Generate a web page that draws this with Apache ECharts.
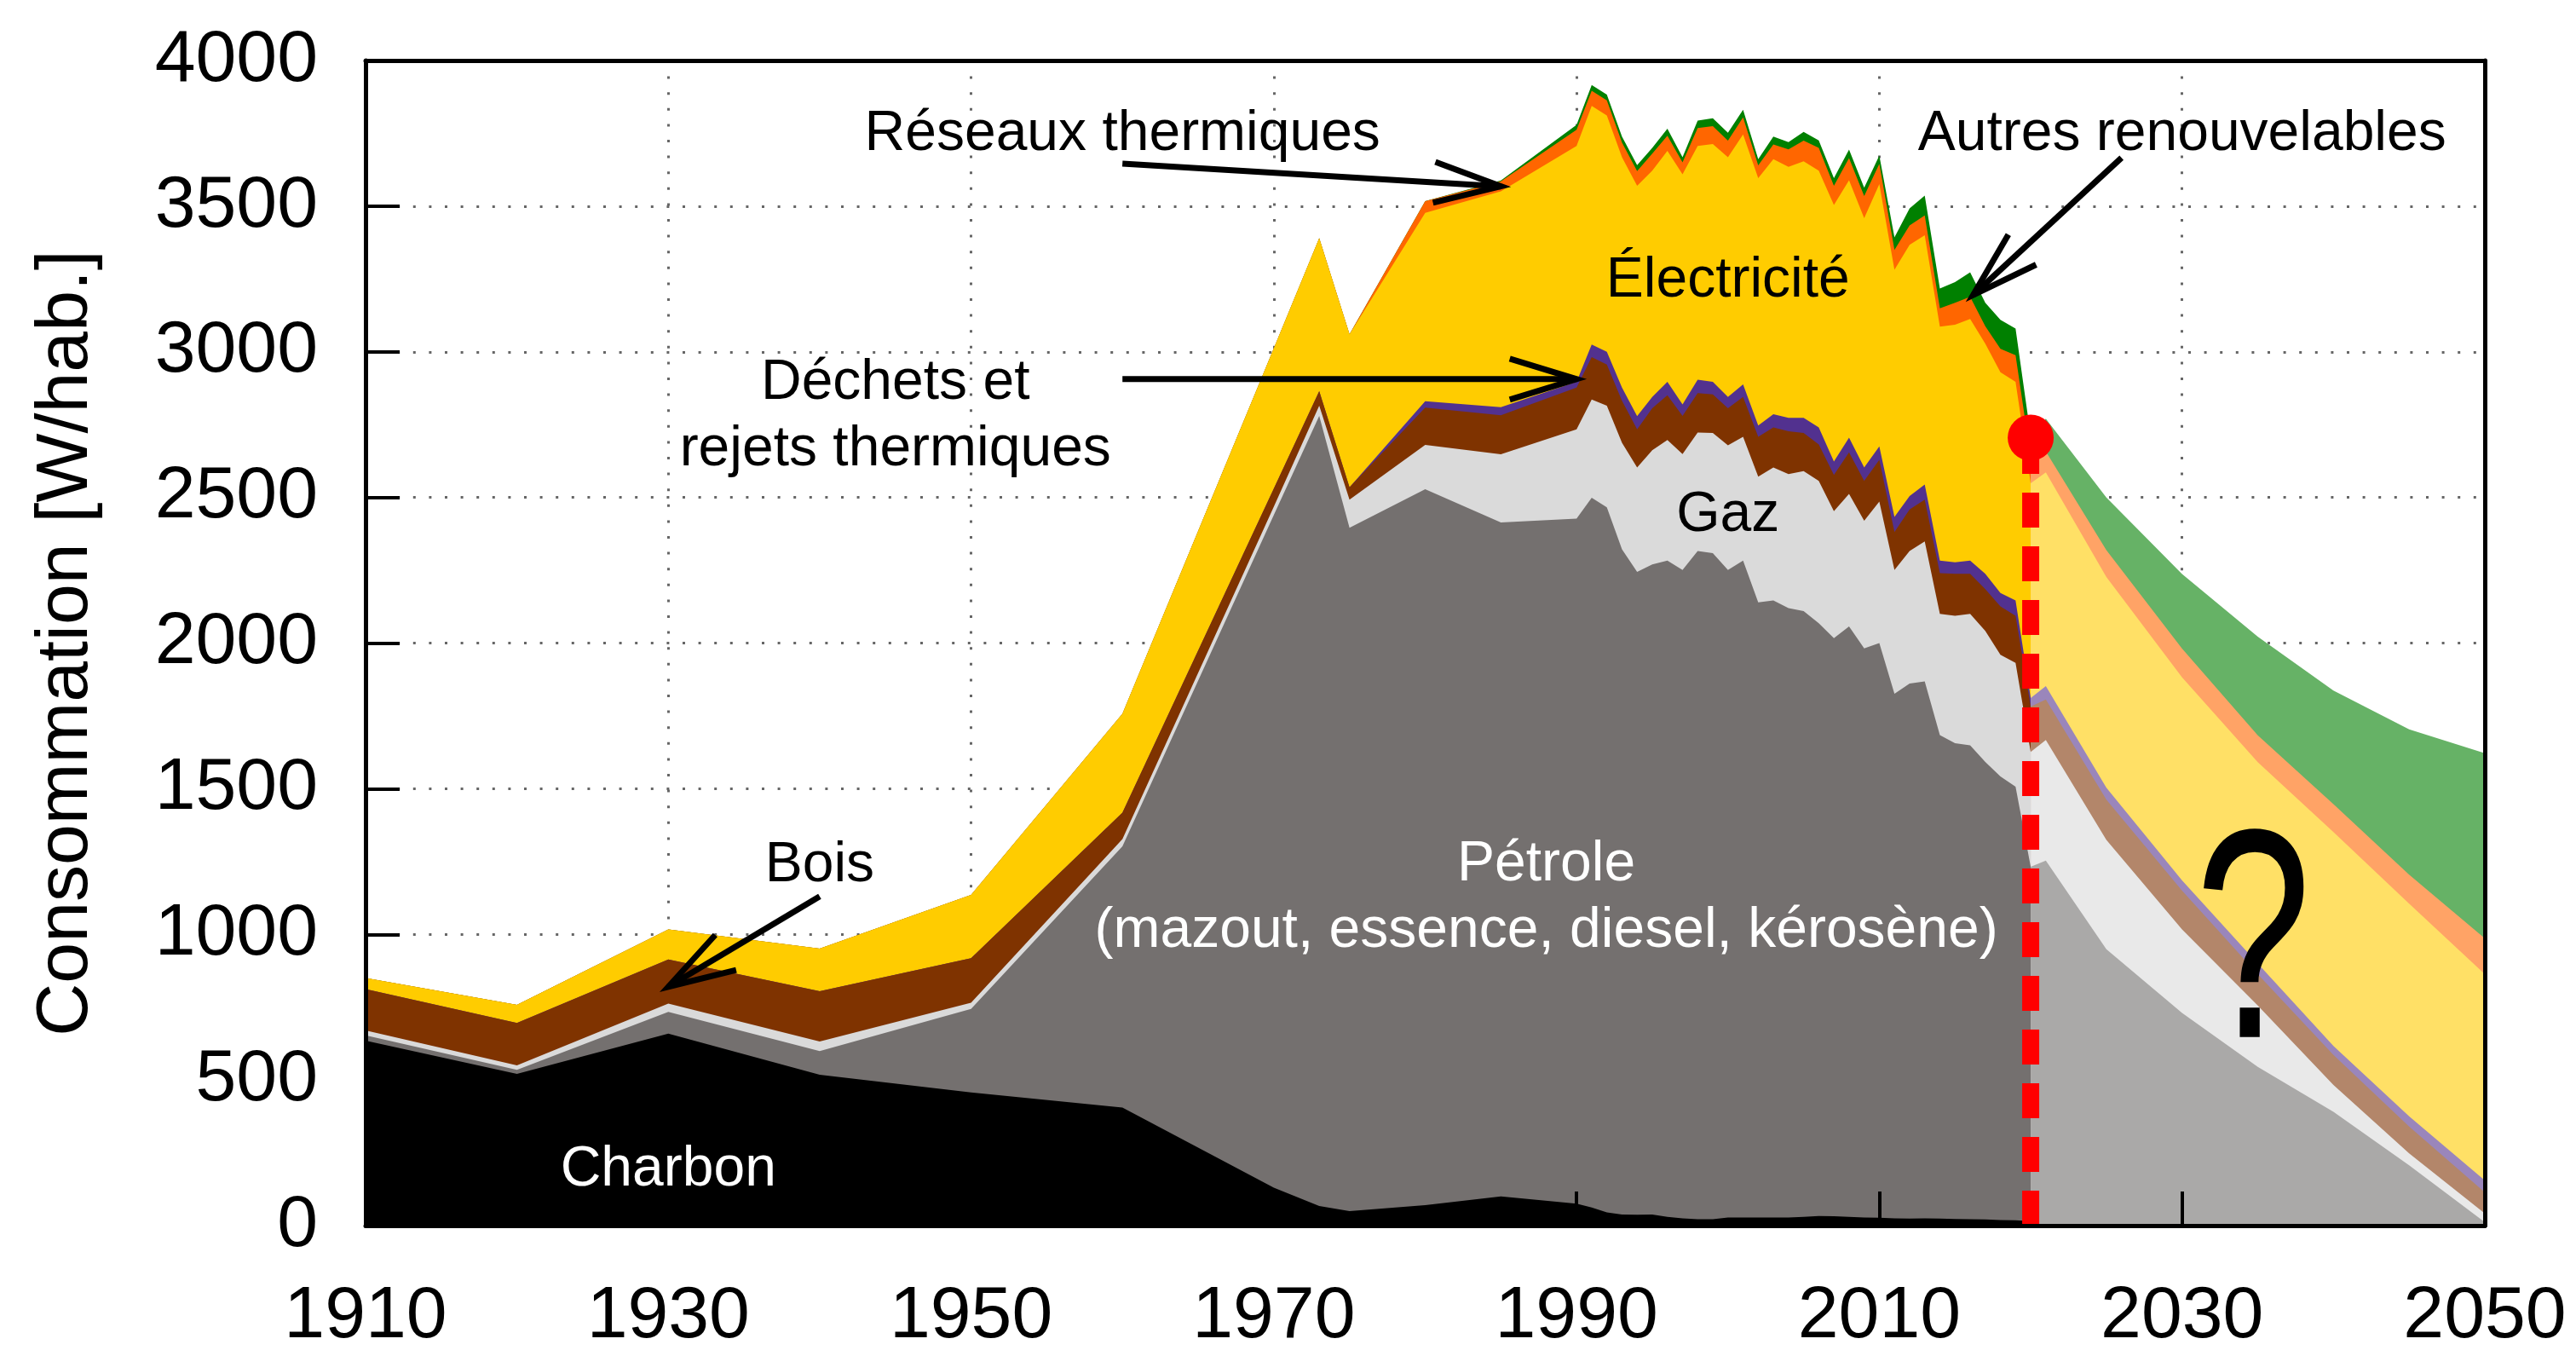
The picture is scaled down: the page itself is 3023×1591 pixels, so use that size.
<!DOCTYPE html>
<html>
<head>
<meta charset="utf-8">
<script src="https://cdn.jsdelivr.net/npm/echarts@6/dist/echarts.min.js"></script>
<style>
html, body { margin: 0; padding: 0; background: #fff; }
#chart { width: 3023px; height: 1591px; }
</style>
</head>
<body>
<div id="chart"></div>
<script>
// données historiques (W/hab.)
var annees = [1910, 1920, 1930, 1940, 1950, 1960, 1970, 1973, 1975, 1980, 1985,
  1990, 1991, 1992, 1993, 1994, 1995, 1996, 1997, 1998, 1999, 2000, 2001, 2002, 2003, 2004,
  2005, 2006, 2007, 2008, 2009, 2010, 2011, 2012, 2013, 2014, 2015, 2016, 2017, 2018, 2019, 2020];
var charbon = [635, 521, 659, 518, 457, 405, 130, 67, 50, 70, 100,
  75, 62, 45, 38, 37, 38, 30, 25, 22, 22, 28, 28, 28, 28, 28,
  30, 33, 32, 30, 28, 27, 25, 24, 25, 24, 23, 22, 21, 19, 18, 15];
var petrole = [18, 14, 75, 81, 287, 897, 2310, 2713, 2346, 2458, 2314,
  2352, 2437, 2421, 2284, 2207, 2232, 2253, 2226, 2294, 2287, 2223, 2255, 2112, 2118, 2092,
  2080, 2035, 1985, 2027, 1954, 1973, 1801, 1837, 1843, 1660, 1633, 1627, 1571, 1523, 1489, 1217];
var gaz = [17, 15, 28, 33, 21, 25, 28, 35, 96, 152, 234,
  307, 337, 349, 366, 359, 392, 414, 398, 407, 412, 428, 425, 431, 457, 460,
  480, 489, 436, 455, 438, 486, 425, 455, 481, 416, 438, 451, 450, 418, 425, 394];
var bois = [142, 146, 152, 173, 153, 91, 62, 50, 43, 128, 134,
  143, 146, 141, 144, 131, 144, 154, 131, 135, 133, 127, 137, 137, 137, 147,
  131, 125, 124, 143, 137, 143, 130, 143, 143, 140, 144, 138, 143, 166, 162, 156];
var dechets = [0, 0, 0, 0, 0, 0, 0, 0, 0, 22, 28,
  20, 43, 44, 45, 45, 39, 46, 39, 46, 43, 39, 43, 39, 46, 46,
  52, 58, 46, 50, 46, 46, 52, 46, 52, 43, 39, 45, 53, 46, 52, 29];
var electricite = [38, 62, 103, 146, 217, 339, 482, 525, 525, 647, 741,
  810, 819, 811, 791, 791, 777, 793, 790, 803, 816, 823, 858, 849, 875, 862,
  881, 882, 881, 884, 856, 901, 849, 862, 856, 803, 816, 830, 790, 758, 751, 738];
var reseaux = [0, 0, 0, 0, 0, 0, 0, 0, 0, 40, 34,
  55, 52, 52, 50, 50, 58, 52, 41, 61, 62, 57, 59, 44, 51, 60,
  71, 78, 66, 76, 76, 69, 68, 67, 68, 63, 75, 76, 60, 80, 91, 88];
var autres = [0, 0, 0, 0, 0, 0, 0, 0, 0, 0, 3,
  17, 20, 20, 21, 21, 20, 24, 18, 26, 27, 27, 26, 21, 27, 25,
  30, 26, 26, 29, 28, 29, 43, 58, 68, 68, 71, 84, 80, 100, 92, 73];

// scénario futur
var anneesFutur = [2020, 2021, 2025, 2030, 2035, 2040, 2045, 2050];
var petroleFutur = [1232, 1253, 949, 730, 545, 391, 207, 12];
var gazFutur = [394, 414, 375, 287, 211, 92, 41, 30];
var boisFutur = [156, 139, 138, 133, 107, 103, 92, 72];
var dechetsFutur = [29, 46, 41, 35, 37, 31, 35, 41];
var electriciteFutur = [738, 734, 724, 697, 691, 734, 730, 708];
var reseauxFutur = [88, 72, 92, 99, 92, 96, 100, 123];
var autresFutur = [73, 112, 181, 256, 339, 390, 499, 636];

// point actuel
var anneeActuelle = 2020;
var valeurActuelle = 2705;

var police = 'Liberation Sans';

// empile les couches (cumul), puis dessine du haut vers le bas
function cumul(couches) {
  var acc = couches[0].map(function () { return 0; });
  return couches.map(function (c) {
    acc = acc.map(function (a, i) { return a + c[i]; });
    return acc.slice();
  });
}

function aire(nom, xs, ys, couleur) {
  return {
    name: nom,
    type: 'line',
    data: xs.map(function (x, i) { return [x, ys[i]]; }),
    symbol: 'none',
    silent: true,
    lineStyle: { width: 0, opacity: 0 },
    areaStyle: { color: couleur, opacity: 1 },
    z: 2
  };
}

var nomsHist = ['Charbon', 'Pétrole', 'Gaz', 'Bois', 'Déchets', 'Électricité', 'Réseaux thermiques', 'Autres renouvelables'];
var couleursHist = ['#000000', '#74706f', '#dadada', '#7f3300', '#52318f', '#ffcc00', '#ff6600', '#008000'];
var cumHist = cumul([charbon, petrole, gaz, bois, dechets, electricite, reseaux, autres]);

var nomsFutur = ['Pétrole', 'Gaz', 'Bois', 'Déchets', 'Électricité', 'Réseaux thermiques', 'Autres renouvelables'];
var couleursFutur = ['#aaa9a8', '#e9e9e9', '#b3866a', '#9a86bb', '#ffe066', '#ffa366', '#66b266'];
var cumFutur = cumul([petroleFutur, gazFutur, boisFutur, dechetsFutur, electriciteFutur, reseauxFutur, autresFutur]);

var series = [];
for (var i = cumHist.length - 1; i >= 0; i--) {
  series.push(aire(nomsHist[i], annees, cumHist[i], couleursHist[i]));
}
for (var j = cumFutur.length - 1; j >= 0; j--) {
  series.push(aire(nomsFutur[j] + ' (futur)', anneesFutur, cumFutur[j], couleursFutur[j]));
}
// ligne rouge pointillée + point
series.push({
  type: 'line',
  data: [[anneeActuelle, 0], [anneeActuelle, valeurActuelle]],
  symbol: 'none',
  silent: true,
  lineStyle: { color: '#ff0000', width: 20, type: [41, 22] },
  z: 5
});
series.push({
  type: 'scatter',
  data: [[anneeActuelle, valeurActuelle]],
  symbolSize: 54,
  silent: true,
  itemStyle: { color: '#ff0000', opacity: 1 },
  z: 6
});

var pointille = { type: [3, 15.6], color: '#666', width: 3 };
function brut(v) { return String(v); }

var option = {
  animation: false,
  backgroundColor: '#fff',
  grid: { left: 429, right: 107, top: 71, bottom: 153 },
  xAxis: [{
    type: 'value', min: 1910, max: 2050, interval: 20,
    axisLine: { show: false }, axisTick: { show: false },
    axisLabel: { fontSize: 86, fontFamily: police, color: '#000', margin: 64, formatter: brut },
    splitLine: { show: true, lineStyle: pointille }
  }, {
    type: 'value', min: 1910, max: 2050, interval: 20, position: 'bottom', z: 10,
    axisLine: { show: true, onZero: false, lineStyle: { color: '#000', width: 5 } },
    axisTick: { show: true, inside: true, length: 40, lineStyle: { color: '#000', width: 4 } },
    axisLabel: { show: false }, splitLine: { show: false }
  }, {
    type: 'value', min: 1910, max: 2050, interval: 20, position: 'top', z: 10,
    axisLine: { show: true, onZero: false, lineStyle: { color: '#000', width: 5 } },
    axisTick: { show: false }, axisLabel: { show: false }, splitLine: { show: false }
  }],
  yAxis: [{
    type: 'value', min: 0, max: 4000, interval: 500,
    name: 'Consommation [W/hab.]', nameLocation: 'middle', nameGap: 308,
    nameTextStyle: { fontSize: 86, fontFamily: police, color: '#000' },
    axisLine: { show: false }, axisTick: { show: false },
    axisLabel: { fontSize: 86, fontFamily: police, color: '#000', margin: 56, formatter: brut },
    splitLine: { show: true, lineStyle: pointille }
  }, {
    type: 'value', min: 0, max: 4000, interval: 500, position: 'left', z: 10,
    axisLine: { show: true, onZero: false, lineStyle: { color: '#000', width: 5 } },
    axisTick: { show: true, inside: true, length: 40, lineStyle: { color: '#000', width: 4 } },
    axisLabel: { show: false }, splitLine: { show: false }
  }, {
    type: 'value', min: 0, max: 4000, interval: 500, position: 'right', z: 10,
    axisLine: { show: true, onZero: false, lineStyle: { color: '#000', width: 5 } },
    axisTick: { show: false }, axisLabel: { show: false }, splitLine: { show: false }
  }],
  series: series
};

var chart = echarts.init(document.getElementById('chart'));
chart.setOption(option);

// annotations placées en coordonnées de données
function px(p) {
  return chart.convertToPixel({ xAxisIndex: 0, yAxisIndex: 0 }, p);
}

function texte(p, txt, couleur, taille, extra) {
  var q = px(p);
  var el = {
    type: 'text', x: q[0], y: q[1], z: 100, silent: true,
    style: {
      text: txt, fill: couleur, fontSize: taille, fontFamily: police,
      align: 'center', verticalAlign: 'middle', lineHeight: 78
    }
  };
  if (extra) { for (var k in extra) el[k] = extra[k]; }
  return el;
}

function fleche(depart, pointe) {
  var a = px(depart), b = px(pointe);
  var ang = Math.atan2(b[1] - a[1], b[0] - a[0]);
  var L = 82, d = 17 * Math.PI / 180;
  var p1 = [b[0] - L * Math.cos(ang - d), b[1] - L * Math.sin(ang - d)];
  var p2 = [b[0] - L * Math.cos(ang + d), b[1] - L * Math.sin(ang + d)];
  return [
    { type: 'line', z: 100, silent: true, shape: { x1: a[0], y1: a[1], x2: b[0], y2: b[1] }, style: { stroke: '#000', lineWidth: 7 } },
    { type: 'polyline', z: 100, silent: true, shape: { points: [p1, b, p2] }, style: { stroke: '#000', lineWidth: 7, fill: null } }
  ];
}

var graphics = []
  .concat(fleche([1960, 3646], [1985, 3568]))
  .concat(fleche([1960, 2906], [1990, 2906]))
  .concat(fleche([1940, 1130], [1930, 820]))
  .concat(fleche([2026, 3666], [2016.2, 3195]));

graphics.push(texte([1960, 3746], 'Réseaux thermiques', '#000', 66));
graphics.push(texte([2030, 3746], 'Autres renouvelables', '#000', 66));
graphics.push(texte([2000, 3244], 'Électricité', '#000', 66));
graphics.push(texte([1945, 2778], 'Déchets et\nrejets thermiques', '#000', 66));
graphics.push(texte([2000, 2437], 'Gaz', '#000', 66));
graphics.push(texte([1988, 1123], 'Pétrole\n(mazout, essence, diesel, kérosène)', '#fff', 66));
graphics.push(texte([1940, 1236], 'Bois', '#000', 66));
graphics.push(texte([1930, 192], 'Charbon', '#fff', 66));
graphics.push(texte([2034.7, 930], '?', '#000', 350, { scaleX: 0.7 }));

chart.setOption({ graphic: graphics });
</script>
</body>
</html>
